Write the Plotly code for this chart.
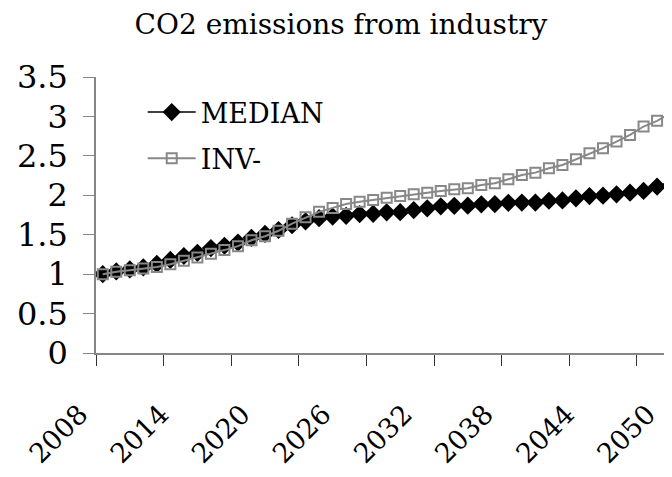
import plotly.graph_objects as go

years = list(range(2008, 2051))
median = [1.00, 1.035, 1.06, 1.085, 1.13, 1.18, 1.23, 1.27, 1.33, 1.36,
          1.40, 1.46, 1.51, 1.56, 1.62, 1.67, 1.71, 1.73, 1.74, 1.762,
          1.765, 1.784, 1.786, 1.813, 1.835, 1.86, 1.866, 1.868, 1.885, 1.889,
          1.905, 1.907, 1.908, 1.931, 1.935, 1.961, 1.99, 1.995, 2.012, 2.033,
          2.055, 2.11, 2.127]
inv = [1.00, 1.03, 1.05, 1.07, 1.09, 1.125, 1.17, 1.21, 1.26, 1.305,
       1.355, 1.43, 1.48, 1.55, 1.64, 1.72, 1.79, 1.84, 1.889, 1.919,
       1.94, 1.97, 1.991, 2.012, 2.033, 2.055, 2.076, 2.089, 2.131, 2.152,
       2.203, 2.258, 2.287, 2.343, 2.385, 2.457, 2.533, 2.597, 2.681, 2.766,
       2.872, 2.944, 3.042]
label_years = list(range(2008, 2051, 6))
label_text = [str(y) for y in label_years]
minor_ticks = [y - 0.5 for y in range(2008, 2051, 5)]
y_ticks = [0, 0.5, 1, 1.5, 2, 2.5, 3, 3.5]
y_text = ["0", "0.5", "1", "1.5", "2", "2.5", "3", "3.5"]

FONT = "DejaVu Serif"
GRAY = "#888888"
AXIS = "#868686"

fig = go.Figure()
fig.add_trace(go.Scatter(
    x=years, y=median, name="MEDIAN", mode="lines+markers", legendgroup="a",
    line=dict(color="black", width=1.5),
    marker=dict(symbol="diamond", size=14, color="black"),
))
fig.add_trace(go.Scatter(
    x=years, y=inv, name="INV-", mode="lines+markers", legendgroup="b",
    line=dict(color=GRAY, width=2),
    marker=dict(symbol="square-open", size=10, color=GRAY, line=dict(width=2, color=GRAY)),
))

fig.update_layout(
    width=672, height=477,
    margin=dict(l=88, r=0, t=69, b=132, autoexpand=False),
    paper_bgcolor="white", plot_bgcolor="white",
    title=dict(text="CO2 emissions from industry", x=0.4955, xanchor="center",
               y=0.966, yanchor="middle", automargin=False,
               font=dict(family=FONT, size=28, color="black")),
    showlegend=True,
    legend=dict(x=0.08, y=0.96, xanchor="left", yanchor="top",
                font=dict(family=FONT, size=27, color="black"),
                bgcolor="rgba(0,0,0,0)", itemwidth=48, tracegroupgap=8),
    xaxis=dict(
        range=[2007.5, 2007.5 + 584 / 13.52], automargin=False,
        tickmode="array", tickvals=label_years, ticktext=label_text,
        tickangle=-45, ticks="", showgrid=False, zeroline=False,
        showline=True, linecolor=AXIS, linewidth=1.5,
        tickfont=dict(family=FONT, size=27, color="black"),
        ticklabelstandoff=33, ticklabelshift=-23,
        minor=dict(tickmode="array", tickvals=minor_ticks, ticks="outside",
                   ticklen=11, tickcolor="#333333", tickwidth=1.2, showgrid=False),
    ),
    yaxis=dict(
        range=[0, 3.5], tickmode="array", tickvals=y_ticks, ticktext=y_text,
        automargin=False,
        ticks="outside", ticklen=11, tickcolor=AXIS, tickwidth=1.2,
        showgrid=False, zeroline=False,
        showline=True, linecolor=AXIS, linewidth=1.5,
        tickfont=dict(family=FONT, size=32, color="black"),
        ticklabelstandoff=9,
    ),
)

fig.write_html("out.html")
